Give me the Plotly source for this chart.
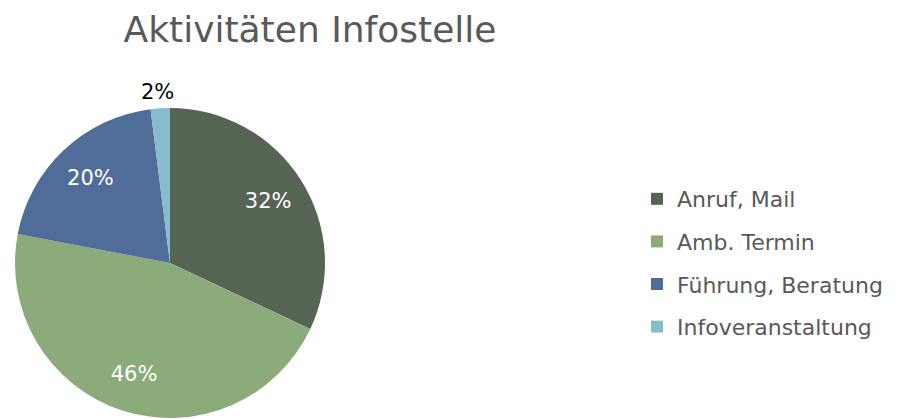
import plotly.graph_objects as go

labels = ["Anruf, Mail", "Amb. Termin", "Führung, Beratung", "Infoveranstaltung"]
values = [32, 46, 20, 2]
colors = ["#566553", "#8bab7b", "#4f6d98", "#88bbcb"]
inside_tmpl = ["%{percent:.0%}", "%{percent:.0%}", "%{percent:.0%}", ""]
outside_tmpl = ["", "", "", "%{percent:.0%}"]

W, H = 900, 419
cx, cy, r = 162, 255, 155


def dom(dx=0, dy=0):
    return dict(x=[(cx + dx - r) / W, (cx + dx + r) / W],
                y=[1 - (cy + dy + r) / H, 1 - (cy + dy - r) / H])


clear = ["rgba(0,0,0,0)"] * len(values)
fig = go.Figure()
# filled pie (no text, no legend)
fig.add_trace(go.Pie(
    labels=labels, values=values, sort=False, direction="clockwise", rotation=0,
    marker=dict(colors=colors, line=dict(width=0)),
    textinfo="none", showlegend=False, domain=dom(), automargin=False,
))
# transparent ring carrying the inside percentage labels further out
fig.add_trace(go.Pie(
    labels=labels, values=values, sort=False, direction="clockwise", rotation=0,
    hole=0.5, marker=dict(colors=clear, line=dict(width=0)),
    texttemplate=inside_tmpl, textposition="inside",
    insidetextfont=dict(color="white", size=21, family="DejaVu Sans"),
    insidetextorientation="horizontal",
    showlegend=False, hoverinfo="skip", domain=dom(), automargin=False,
))
# transparent pie carrying the small-slice outside label
fig.add_trace(go.Pie(
    labels=labels, values=values, sort=False, direction="clockwise", rotation=0,
    marker=dict(colors=clear, line=dict(width=0)),
    texttemplate=outside_tmpl, textposition="outside",
    outsidetextfont=dict(color="black", size=21, family="DejaVu Sans"),
    showlegend=False, hoverinfo="skip", domain=dom(20, -4), automargin=False,
))

# legend entries
for i, (lab, col) in enumerate(zip(labels, colors)):
    fig.add_trace(go.Scatter(
        x=[None], y=[None], mode="markers", name=lab,
        marker=dict(symbol="square", size=10, color=col),
        legendgroup=f"g{i}", showlegend=True,
    ))

fig.update_layout(
    width=W, height=H,
    margin=dict(l=0, r=0, t=0, b=0),
    paper_bgcolor="white", plot_bgcolor="white",
    font=dict(family="DejaVu Sans", color="#595959"),
    xaxis=dict(visible=False), yaxis=dict(visible=False),
    title=dict(text="Aktivitäten Infostelle", x=302 / W, xanchor="center", y=1 - 21 / H, yanchor="middle",
               font=dict(size=36, color="#595959", family="DejaVu Sans")),
    legend=dict(x=629 / W, y=1 - 255 / H, xanchor="left", yanchor="middle",
                tracegroupgap=11, itemsizing="constant",
                font=dict(size=22, color="#595959", family="DejaVu Sans")),
)

fig.write_html("out.html")
